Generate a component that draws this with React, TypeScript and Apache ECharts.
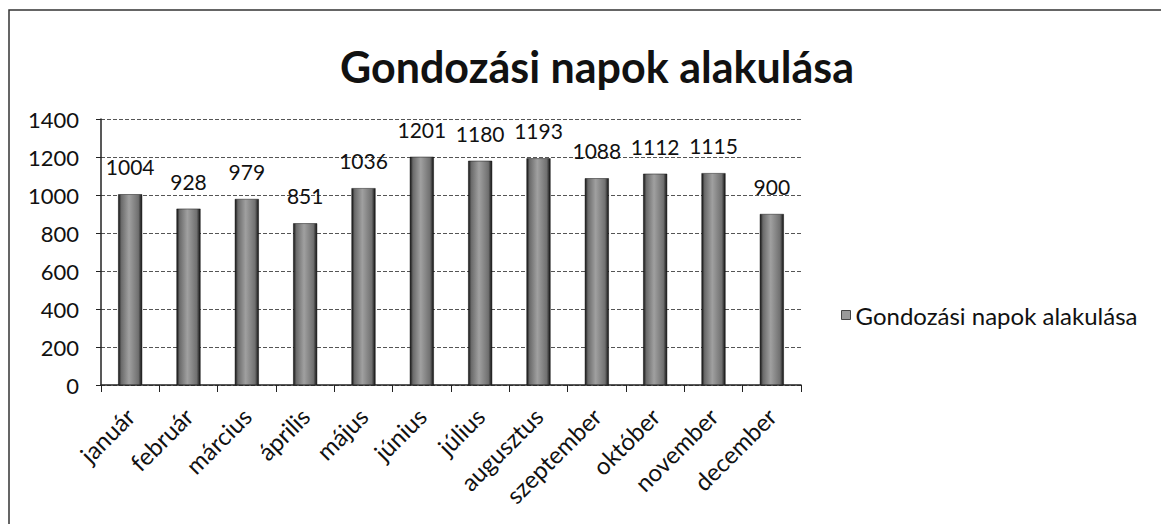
import React, { useEffect, useRef } from "react";
import * as echarts from "echarts";

const categories = ["január", "február", "március", "április", "május", "június", "július", "augusztus", "szeptember", "október", "november", "december"];
const values = [1004, 928, 979, 851, 1036, 1201, 1180, 1193, 1088, 1112, 1115, 900];
const seriesName = "Gondozási napok alakulása";
const titleText = "Gondozási napok alakulása";

const FONT = "Lato, 'Open Sans', sans-serif";

export default function App() {
  const ref = useRef<HTMLDivElement>(null);
  useEffect(() => {
    if (!ref.current) return;
    const chart = echarts.init(ref.current, undefined, { renderer: "svg" });
    const barColor = new echarts.graphic.LinearGradient(0, 0, 1, 0, [
      { offset: 0, color: "#111111" },
      { offset: 0.12, color: "#6a6a6a" },
      { offset: 0.45, color: "#a0a0a0" },
      { offset: 0.85, color: "#707070" },
      { offset: 1, color: "#111111" },
    ]);
    chart.setOption({
      animation: false,
      backgroundColor: "#ffffff",
      title: {
        text: titleText,
        left: 592,
        textAlign: "center",
        top: 40,
        textStyle: { fontFamily: FONT, fontSize: 43, fontWeight: "bold", color: "#111" },
      },
      legend: {
        left: 836,
        top: 298,
        itemWidth: 9,
        itemHeight: 9,
        itemGap: 4,
        data: [{ name: seriesName, icon: "rect", itemStyle: { color: "#999", borderColor: "#444", borderWidth: 1 } }],
        textStyle: { fontFamily: FONT, fontSize: 24, color: "#111" },
      },
      grid: { left: 101, right: 360, top: 119, bottom: 139, containLabel: false },
      xAxis: {
        type: "category",
        data: categories,
        boundaryGap: true,
        axisLine: { show: true, lineStyle: { color: "#222", width: 1.5 } },
        axisTick: { show: true, alignWithLabel: false, length: 7, lineStyle: { color: "#222" } },
        axisLabel: { rotate: 45, margin: 27, fontFamily: FONT, fontSize: 24, color: "#111", interval: 0 },
      },
      yAxis: {
        type: "value",
        min: 0,
        max: 1400,
        interval: 200,
        axisLine: { show: true, lineStyle: { color: "#222", width: 1.5 } },
        axisTick: { show: true, length: 5, lineStyle: { color: "#222" } },
        axisLabel: { margin: 22, fontFamily: FONT, fontSize: 22, color: "#111", formatter: (v: number) => String(v) },
        splitLine: { show: true, lineStyle: { color: "#555", type: "dashed", width: 1 } },
      },
      series: [
        {
          name: seriesName,
          type: "bar",
          data: values,
          barWidth: 24,
          itemStyle: { color: barColor, borderColor: "#111", borderWidth: 0.5 },
          label: {
            show: true,
            position: "top",
            distance: 17,
            fontFamily: FONT,
            fontSize: 21,
            color: "#111",
          },
        },
      ],
      graphic: [
        {
          type: "rect",
          shape: { x: 9, y: 10, width: 1160, height: 530 },
          style: { fill: "none", stroke: "#333", lineWidth: 1.5 },
          silent: true,
        },
      ],
    });
    return () => chart.dispose();
  }, []);
  return (
    <div
      ref={ref}
      style={{ position: "fixed", left: 0, top: 0, width: 1161, height: 524 }}
    />
  );
}
